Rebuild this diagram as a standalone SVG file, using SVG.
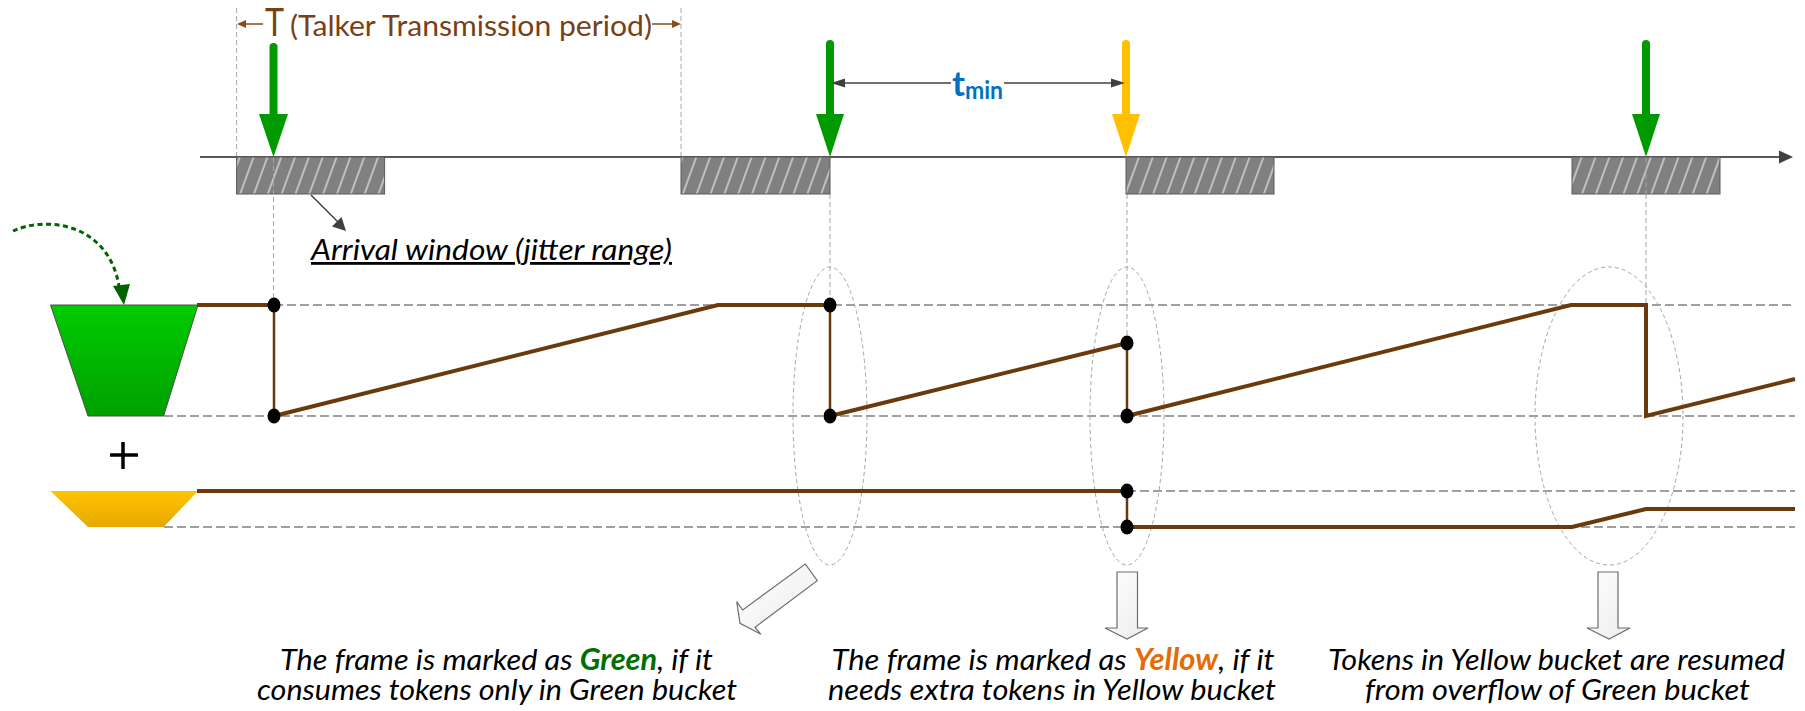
<svg xmlns="http://www.w3.org/2000/svg" width="1805" height="711" viewBox="0 0 1805 711">
<style>
.vd{stroke:#a6a6a6;stroke-width:1;stroke-dasharray:5 3;fill:none}
.hd{stroke:#808080;stroke-width:1.3;stroke-dasharray:9 4;fill:none}
.el{stroke:#a6a6a6;stroke-width:1;stroke-dasharray:4 3;fill:none}
.br{stroke:#6b3a0c;stroke-width:4;fill:none;stroke-linejoin:miter}
.brt{stroke:#6b3a0c;stroke-width:2.5;fill:none}
.dot{fill:#000}
.box{fill:url(#hatch);stroke:#595959;stroke-width:1}
.gsh{stroke:#009a00;stroke-width:8;stroke-linecap:round}
.ysh{stroke:#ffc000;stroke-width:8;stroke-linecap:round}
.gh{fill:#009a00}
.yh{fill:#ffc000}
.blk{fill:url(#bgrad);stroke:#6d6d6d;stroke-width:1.2;stroke-linejoin:miter}
.cap{font-family:Lato,'Open Sans',sans-serif;font-style:italic;font-size:29.5px;fill:#000}
.dk{stroke:#404040;stroke-width:1.5}
</style>
<defs>
<pattern id="hatch" patternUnits="userSpaceOnUse" width="13" height="13" patternTransform="rotate(20)">
<rect width="13" height="13" fill="#808080"/>
<line x1="6" y1="0" x2="6" y2="13" stroke="#cfcfcf" stroke-width="1.6"/>
</pattern>
<linearGradient id="ggrad" x1="0" y1="0" x2="0" y2="1">
<stop offset="0" stop-color="#00cc00"/>
<stop offset="1" stop-color="#00a000"/>
</linearGradient>
<linearGradient id="ygrad" x1="0" y1="0" x2="0" y2="1">
<stop offset="0" stop-color="#ffc400"/>
<stop offset="1" stop-color="#e6a800"/>
</linearGradient>
<linearGradient id="bgrad" x1="0" y1="0" x2="1" y2="1">
<stop offset="0" stop-color="#ffffff"/>
<stop offset="1" stop-color="#ececec"/>
</linearGradient>
</defs>
<rect width="1805" height="711" fill="#fff"/>

<g id="guides">
<line class="vd" x1="236.6" y1="8" x2="236.6" y2="157"/>
<line class="vd" x1="681" y1="8" x2="681" y2="157"/>
<line class="vd" x1="273.5" y1="157" x2="273.5" y2="305"/>
<line class="vd" x1="830" y1="194" x2="830" y2="305"/>
<line class="vd" x1="1127" y1="194" x2="1127" y2="343"/>
<line class="vd" x1="1646" y1="194" x2="1646" y2="305"/>
<line class="hd" x1="274" y1="305" x2="1795" y2="305"/>
<line class="hd" x1="164" y1="416" x2="1795" y2="416"/>
<line class="hd" x1="1127" y1="491" x2="1795" y2="491"/>
<line class="hd" x1="164" y1="527" x2="1795" y2="527"/>
<ellipse class="el" cx="830" cy="416" rx="37" ry="149"/>
<ellipse class="el" cx="1127" cy="416" rx="37" ry="149"/>
<ellipse class="el" cx="1609" cy="416" rx="74" ry="149"/>
</g>

<g id="period-label">
<line x1="242" y1="24" x2="263" y2="24" stroke="#8a4a1a" stroke-width="1.5"/>
<polygon points="237,24 246,20 246,28" fill="#8a4a1a"/>
<line x1="652" y1="24" x2="676" y2="24" stroke="#8a4a1a" stroke-width="1.5"/>
<polygon points="681,24 672,20 672,28" fill="#8a4a1a"/>
<text x="265" y="36" font-family="Lato,'Open Sans',sans-serif" font-size="39" fill="#7a4015" textLength="19" lengthAdjust="spacingAndGlyphs">T</text>
<text x="290" y="36" font-family="Lato,'Open Sans',sans-serif" font-size="28" fill="#7a4015" textLength="362" lengthAdjust="spacingAndGlyphs">(Talker Transmission period)</text>
</g>

<g id="timeline">
<line x1="200" y1="157" x2="1782" y2="157" stroke="#595959" stroke-width="2"/>
<polygon points="1779,150.5 1793,157 1779,163.5" fill="#404040"/>
</g>

<g id="windows">
<rect class="box" x="236.6" y="157" width="148" height="37"/>
<rect class="box" x="681" y="157" width="149" height="37"/>
<rect class="box" x="1126" y="157" width="148" height="37"/>
<rect class="box" x="1572" y="157" width="148" height="37"/>
<line class="vd" x1="273.5" y1="158" x2="273.5" y2="194" stroke="#9a9a9a"/>
<line class="vd" x1="1646" y1="158" x2="1646" y2="194" stroke="#9a9a9a"/>
</g>

<g id="arrival-label">
<line class="dk" x1="311" y1="195" x2="339" y2="223"/>
<polygon points="346,231 332,226.5 341.5,217" fill="#404040"/>
<text x="311" y="260" font-family="Lato,'Open Sans',sans-serif" font-style="italic" font-size="28" fill="#000" text-decoration="underline" textLength="361" lengthAdjust="spacingAndGlyphs">Arrival window (jitter range)</text>
</g>

<g id="frame-arrows">
<line class="gsh" x1="273.5" y1="47" x2="273.5" y2="116"/>
<polygon class="gh" points="259,114 288,114 273.5,157"/>
<line class="gsh" x1="830" y1="44" x2="830" y2="116"/>
<polygon class="gh" points="816,114 844,114 830,157"/>
<line class="ysh" x1="1126" y1="44" x2="1126" y2="116"/>
<polygon class="yh" points="1112,114 1140,114 1126,157"/>
<line class="gsh" x1="1646" y1="44" x2="1646" y2="116"/>
<polygon class="gh" points="1632,114 1660,114 1646,157"/>
</g>

<g id="tmin">
<line class="dk" x1="840" y1="83" x2="951" y2="83"/>
<polygon points="831,83 845,78.5 845,87.5" fill="#404040"/>
<line class="dk" x1="1004" y1="83" x2="1116" y2="83"/>
<polygon points="1125,83 1111,78.5 1111,87.5" fill="#404040"/>
<text x="952" y="96" font-family="Lato,'Open Sans',sans-serif" font-weight="bold" font-size="34" fill="#0070c0" textLength="13" lengthAdjust="spacingAndGlyphs">t</text>
<text x="965" y="98.5" font-family="Lato,'Open Sans',sans-serif" font-weight="bold" font-size="24" fill="#0070c0" textLength="38" lengthAdjust="spacingAndGlyphs">min</text>
</g>

<g id="green-bucket">
<path d="M13 231 C 45 216, 108 222, 119 286" fill="none" stroke="#006400" stroke-width="3" stroke-dasharray="5 3.5"/>
<polygon points="113,286 130,284 124,305" fill="#006400"/>
<polygon points="50.5,305 198,305 163.6,416 88,416" fill="url(#ggrad)" stroke="#4d4d4d" stroke-width="1"/>
</g>

<g id="plus">
<line x1="123" y1="442" x2="123" y2="469" stroke="#000" stroke-width="3.5"/>
<line x1="110" y1="455" x2="138" y2="455" stroke="#000" stroke-width="3.5"/>
</g>

<g id="yellow-bucket">
<polygon points="50.5,491 198,491 163.6,527 88,527" fill="url(#ygrad)"/>
</g>

<g id="token-levels">
<path class="br" d="M197 305 L274 305"/>
<line class="brt" x1="274" y1="305" x2="274" y2="416"/>
<path class="br" d="M274 416 L718 305 L830 305"/>
<line class="brt" x1="830" y1="305" x2="830" y2="416"/>
<path class="br" d="M830 416 L1127 343"/>
<line class="brt" x1="1127" y1="343" x2="1127" y2="416"/>
<path class="br" d="M1127 416 L1571 305 L1646 305 L1646 416 L1795 379"/>
<path class="br" d="M197 491 L1127 491"/>
<line class="brt" x1="1127" y1="491" x2="1127" y2="527"/>
<path class="br" d="M1127 527 L1572 527 L1646 509 L1795 509"/>
<ellipse class="dot" cx="274" cy="305" rx="6.5" ry="7.5"/>
<ellipse class="dot" cx="274" cy="416" rx="6.5" ry="7.5"/>
<ellipse class="dot" cx="830" cy="305" rx="6.5" ry="7.5"/>
<ellipse class="dot" cx="830" cy="416" rx="6.5" ry="7.5"/>
<ellipse class="dot" cx="1127" cy="343" rx="6.5" ry="7.5"/>
<ellipse class="dot" cx="1127" cy="416" rx="6.5" ry="7.5"/>
<ellipse class="dot" cx="1127" cy="491" rx="6.5" ry="7.5"/>
<ellipse class="dot" cx="1127" cy="527" rx="6.5" ry="7.5"/>
</g>

<g id="callout-arrows">
<polygon class="blk" points="805.3,564 817.3,580.7 755,627.3 761,634.3 740,623.3 736.7,601.7 742.7,610"/>
<polygon class="blk" points="1117,572 1137.5,572 1137.5,628 1148,628 1127,639 1105,628 1117,628"/>
<polygon class="blk" points="1598,572 1618,572 1618,628 1630,628 1609,639 1587,628 1598,628"/>
</g>

<g id="caption-green">
<text class="cap" x="496.5" y="670" text-anchor="middle" textLength="433" lengthAdjust="spacingAndGlyphs">The frame is marked as <tspan font-weight="bold" fill="#006f00">Green</tspan>, if it</text>
<text class="cap" x="497" y="700" text-anchor="middle" textLength="480" lengthAdjust="spacingAndGlyphs">consumes tokens only in Green bucket</text>
</g>
<g id="caption-yellow">
<text class="cap" x="1053" y="670" text-anchor="middle" textLength="443" lengthAdjust="spacingAndGlyphs">The frame is marked as <tspan font-weight="bold" fill="#e36c09">Yellow</tspan>, if it</text>
<text class="cap" x="1052" y="700" text-anchor="middle" textLength="448" lengthAdjust="spacingAndGlyphs">needs extra tokens in Yellow bucket</text>
</g>
<g id="caption-overflow">
<text class="cap" x="1556.5" y="670" text-anchor="middle" textLength="457" lengthAdjust="spacingAndGlyphs">Tokens in Yellow bucket are resumed</text>
<text class="cap" x="1557.5" y="700" text-anchor="middle" textLength="385" lengthAdjust="spacingAndGlyphs">from overflow of Green bucket</text>
</g>
</svg>
